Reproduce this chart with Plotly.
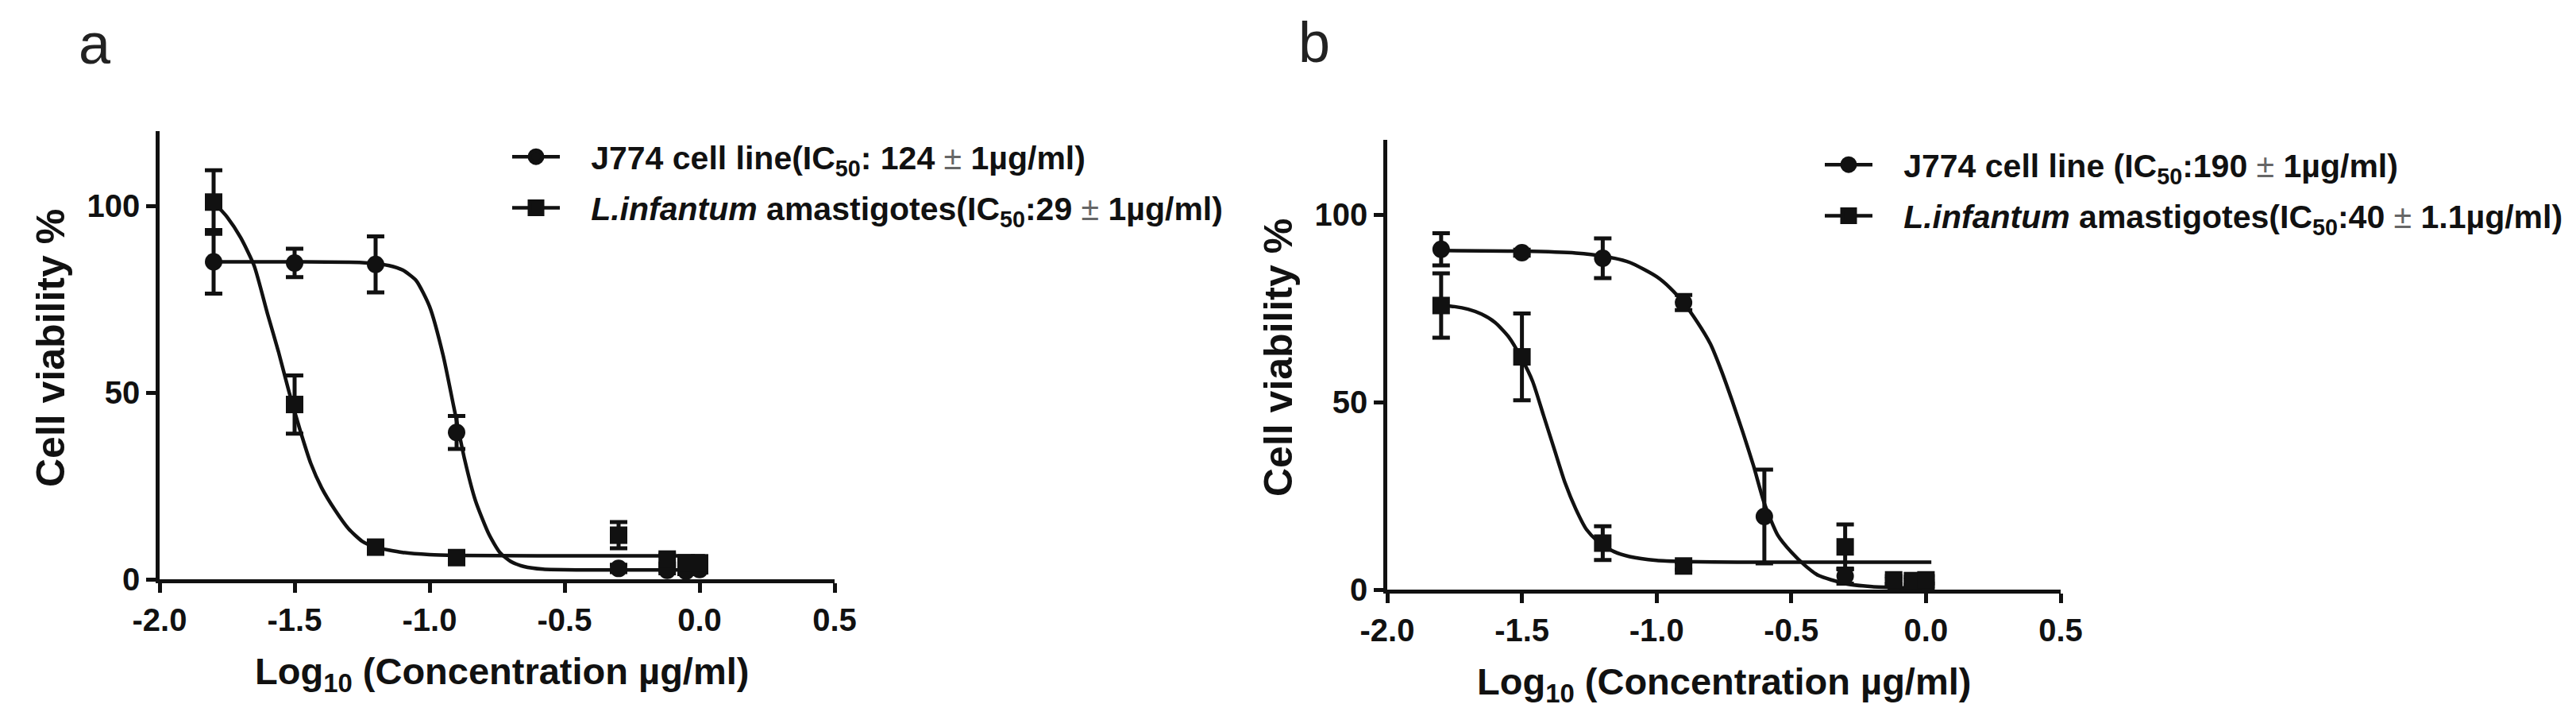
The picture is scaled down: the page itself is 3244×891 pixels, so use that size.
import plotly.graph_objects as go

W, H = 3244, 891

# ---------------- data ----------------
x_ticks = [-2.0, -1.5, -1.0, -0.5, 0.0, 0.5]
x_tick_labels = ["-2.0", "-1.5", "-1.0", "-0.5", "0.0", "0.5"]
y_ticks = [0, 50, 100]
y_tick_labels = ["0", "50", "100"]

# Panel a
a_j774_x = [-1.8, -1.5, -1.2, -0.9, -0.3, -0.12, -0.05, 0.0]
a_j774_y = [85.0, 84.7, 84.3, 39.3, 2.9, 2.4, 2.2, 2.6]
a_j774_err = [8.5, 3.8, 7.5, 4.4, 1.0, 0.8, 0.8, 0.8]
a_linf_x = [-1.8, -1.5, -1.2, -0.9, -0.3, -0.12, -0.05, 0.0]
a_linf_y = [101.0, 46.8, 8.6, 5.8, 11.8, 5.4, 4.4, 4.4]
a_linf_err = [8.5, 7.8, 1.2, 1.0, 3.5, 1.2, 1.0, 1.0]

a_j774_fit_x = [-1.80, -1.50, -1.25, -1.15, -1.10, -1.05, -1.00, -0.95, -0.91, -0.87,
                -0.83, -0.78, -0.74, -0.70, -0.65, -0.58, -0.45, -0.30, 0.02]
a_j774_fit_y = [85.0, 85.0, 84.8, 84.0, 82.8, 80.0, 73.0, 60.0, 46.0, 32.0,
                21.0, 12.0, 7.2, 4.8, 3.4, 2.7, 2.5, 2.5, 2.5]
a_linf_fit_x = [-1.80, -1.75, -1.70, -1.65, -1.60, -1.56, -1.52, -1.48, -1.44, -1.40,
                -1.35, -1.30, -1.25, -1.20, -1.10, -1.00, -0.90, -0.60, 0.02]
a_linf_fit_y = [101.0, 97.0, 91.5, 84.0, 71.0, 61.0, 50.0, 40.0, 31.0, 24.5,
                18.5, 13.5, 10.2, 8.6, 7.2, 6.6, 6.4, 6.3, 6.3]

# Panel b
b_j774_x = [-1.8, -1.5, -1.2, -0.9, -0.6, -0.3, -0.12, -0.05, 0.0]
b_j774_y = [90.8, 89.9, 88.4, 76.6, 19.5, 3.6, 1.8, 1.6, 1.5]
b_j774_err = [4.3, 0.8, 5.3, 2.0, 12.5, 2.0, 1.0, 1.0, 1.0]
b_linf_x = [-1.8, -1.5, -1.2, -0.9, -0.3, -0.12, -0.05, 0.0]
b_linf_y = [75.8, 62.1, 12.4, 6.3, 11.4, 2.6, 2.4, 2.6]
b_linf_err = [8.6, 11.6, 4.5, 1.0, 6.0, 1.0, 1.0, 1.0]

b_j774_fit_x = [-1.80, -1.50, -1.30, -1.20, -1.10, -1.00, -0.95, -0.90, -0.85, -0.80,
                -0.76, -0.72, -0.68, -0.64, -0.60, -0.55, -0.50, -0.45, -0.40, -0.30,
                -0.20, -0.10, 0.02]
b_j774_fit_y = [90.5, 90.3, 89.8, 89.0, 87.3, 83.5, 80.5, 76.5, 71.5, 65.5,
                58.5, 50.5, 42.0, 33.0, 23.0, 14.5, 10.0, 6.5, 3.8, 1.6,
                0.8, 0.5, 0.3]
b_linf_fit_x = [-1.80, -1.75, -1.70, -1.65, -1.60, -1.55, -1.50, -1.46, -1.42, -1.38,
                -1.34, -1.30, -1.26, -1.22, -1.16, -1.10, -1.00, -0.90, -0.70, 0.02]
b_linf_fit_y = [75.8, 75.5, 74.8, 73.5, 71.3, 67.5, 61.5, 55.5, 46.5, 37.5,
                28.5, 21.5, 16.0, 13.0, 10.2, 8.8, 7.8, 7.5, 7.3, 7.3]

PM = '<span style="font-weight:normal;color:#666">±</span>'
a_names = [f"J774 cell line(IC<sub>50</sub>: 124 {PM} 1µg/ml)",
           f"<i>L.infantum</i> amastigotes(IC<sub>50</sub>:29 {PM} 1µg/ml)"]
b_names = [f"J774 cell line (IC<sub>50</sub>:190 {PM} 1µg/ml)",
           f"<i>L.infantum</i> amastigotes(IC<sub>50</sub>:40 {PM} 1.1µg/ml)"]
panel_labels = ["a", "b"]
y_title = "Cell viability %"
x_title = "Log<sub>10</sub> (Concentration µg/ml)"

# ---------------- styling ----------------
FONT = "Arial, Liberation Sans, Helvetica, sans-serif"
INK = "#111111"
LW = 4.5
CURVE_W = 4.5
MS = 22


def px_x(p):
    return p / W


def px_y(p):
    return 1 - p / H


fig = go.Figure()


def add_panel(xa, ya, leg, fits, pts, names):
    for fx, fy in fits:
        fig.add_trace(go.Scatter(x=fx, y=fy, mode="lines", xaxis=xa, yaxis=ya,
                                 line=dict(color=INK, width=CURVE_W, shape="spline", smoothing=0.6),
                                 showlegend=False, hoverinfo="skip", cliponaxis=False))
    for (px_, py_, pe, sym) in pts:
        fig.add_trace(go.Scatter(x=px_, y=py_, mode="markers", xaxis=xa, yaxis=ya,
                                 marker=dict(symbol=sym, size=MS, color=INK, line=dict(width=0)),
                                 error_y=dict(type="data", array=pe, visible=True, color=INK,
                                              thickness=5, width=11),
                                 showlegend=False, cliponaxis=False))
    for i, (name, sym) in enumerate(zip(names, ["circle", "square"])):
        fig.add_trace(go.Scatter(x=[None], y=[None], mode="lines+markers", xaxis=xa, yaxis=ya,
                                 name="\u00a0\u00a0\u00a0" + name, legend=leg,
                                 legendgroup=f"{leg}_{i}",
                                 line=dict(color=INK, width=CURVE_W),
                                 marker=dict(symbol=sym, size=16, color=INK,
                                             line=dict(color=INK, width=5))))


add_panel("x", "y", "legend",
          [(a_j774_fit_x, a_j774_fit_y), (a_linf_fit_x, a_linf_fit_y)],
          [(a_j774_x, a_j774_y, a_j774_err, "circle"), (a_linf_x, a_linf_y, a_linf_err, "square")],
          a_names)
add_panel("x2", "y2", "legend2",
          [(b_j774_fit_x, b_j774_fit_y), (b_linf_fit_x, b_linf_fit_y)],
          [(b_j774_x, b_j774_y, b_j774_err, "circle"), (b_linf_x, b_linf_y, b_linf_err, "square")],
          b_names)

tickfont = dict(family=FONT, size=40, color=INK, weight="bold")


def xax(dom):
    return dict(domain=dom, range=[-2.0, 0.5], tickvals=x_ticks, ticktext=x_tick_labels,
                showline=True, linecolor=INK, linewidth=LW, ticks="outside", ticklen=12,
                tickwidth=LW, tickcolor=INK, showgrid=False, zeroline=False,
                tickfont=tickfont, fixedrange=True, automargin=False)


def yax(dom):
    return dict(domain=dom, range=[0, 120], tickvals=y_ticks, ticktext=y_tick_labels,
                showline=True, linecolor=INK, linewidth=LW, ticks="outside", ticklen=12,
                tickwidth=LW, tickcolor=INK, showgrid=False, zeroline=False,
                tickfont=tickfont, fixedrange=True, automargin=False)


# panel pixel boxes (left, right, top, bottom)
A = (193, 1043, 157, 721)
B = (1739, 2587, 168, 734)

legfont = dict(family=FONT, size=41, color=INK, weight="bold")

fig.update_layout(
    width=W, height=H, margin=dict(l=0, r=0, t=0, b=0, autoexpand=False),
    paper_bgcolor="white", plot_bgcolor="white",
    xaxis=dict(xax([px_x(A[0]), px_x(A[1])]), anchor="y"),
    yaxis=dict(yax([px_y(A[3]), px_y(A[2])]), anchor="x"),
    xaxis2=dict(xax([px_x(B[0]), px_x(B[1])]), anchor="y2"),
    yaxis2=dict(yax([px_y(B[3]), px_y(B[2])]), anchor="x2"),
    legend=dict(x=px_x(632), y=px_y(156), xanchor="left", yanchor="top",
                bgcolor="rgba(0,0,0,0)", borderwidth=0, font=legfont, itemwidth=60,
                traceorder="grouped", tracegroupgap=8),
    legend2=dict(x=px_x(2285), y=px_y(166), xanchor="left", yanchor="top",
                 bgcolor="rgba(0,0,0,0)", borderwidth=0, font=legfont, itemwidth=60,
                 traceorder="grouped", tracegroupgap=8),
    showlegend=True,
)

ann = []
for lab, (cx, cy) in zip(panel_labels, [(112, 47), (1647, 45)]):
    ann.append(dict(text=lab, x=px_x(cx), y=px_y(cy), xref="paper", yref="paper",
                    xanchor="center", yanchor="middle", showarrow=False,
                    font=dict(family=FONT, size=72, color="#222222")))
for (cx, cy) in [(56, 430), (1602, 442)]:
    ann.append(dict(text=y_title, x=px_x(cx), y=px_y(cy), xref="paper", yref="paper",
                    xanchor="center", yanchor="middle", textangle=-90, showarrow=False,
                    font=dict(family=FONT, size=50, color=INK, weight="bold")))
for (cx, cy) in [(624, 840), (2163, 853)]:
    ann.append(dict(text=x_title, x=px_x(cx), y=px_y(cy), xref="paper", yref="paper",
                    xanchor="center", yanchor="middle", showarrow=False,
                    font=dict(family=FONT, size=47, color=INK, weight="bold")))
fig.update_layout(annotations=ann)

fig.write_html("out.html")
